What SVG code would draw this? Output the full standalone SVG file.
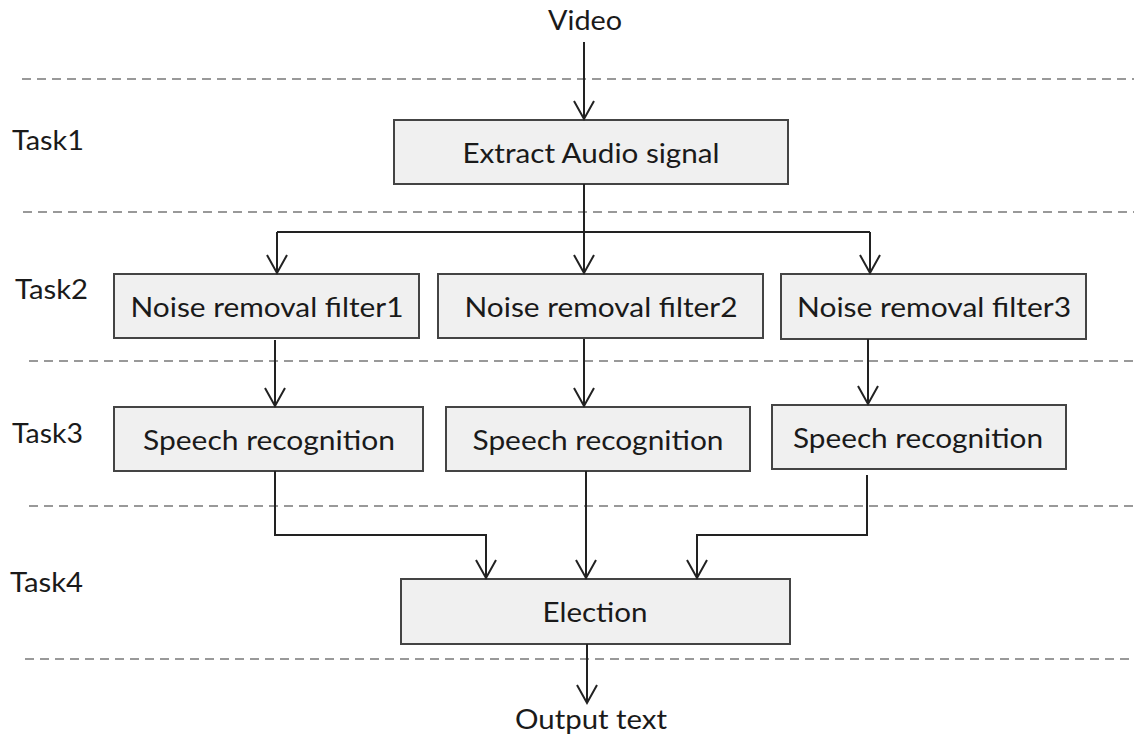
<svg xmlns="http://www.w3.org/2000/svg" width="1134" height="735" viewBox="0 0 1134 735">
  <defs>
    <marker id="arrow" markerUnits="userSpaceOnUse" markerWidth="40" markerHeight="40" refX="0" refY="0" orient="auto" overflow="visible">
      <path d="M-18,-10 L0,0 L-18,10" fill="none" stroke="#222" stroke-width="2"/>
    </marker>
    <style>
      .sep { stroke: #999; stroke-width: 2.2; stroke-dasharray: 9 6; fill: none; }
      .box { fill: #f0f0f0; stroke: #444; stroke-width: 2; }
      .lbl { font-family: Lato, "Open Sans", sans-serif; font-size: 26px; fill: #1a1a1a; text-anchor: middle; }
      .task { font-family: Lato, "Open Sans", sans-serif; font-size: 26px; fill: #1a1a1a; }
      .wire { fill: none; stroke: #222; stroke-width: 2; }
      .arr { marker-end: url(#arrow); }
    </style>
  </defs>

  <!-- stage separators -->
  <g id="separators">
    <line class="sep" x1="22" y1="79" x2="1134" y2="79"/>
    <line class="sep" x1="23" y1="212" x2="1134" y2="212"/>
    <line class="sep" x1="29" y1="361" x2="1134" y2="361"/>
    <line class="sep" x1="29" y1="506" x2="1134" y2="506"/>
    <line class="sep" x1="25" y1="659" x2="1134" y2="659"/>
  </g>

  <!-- stage labels -->
  <g id="task-labels">
    <text class="task" x="12" y="150" textLength="72" lengthAdjust="spacingAndGlyphs">Task1</text>
    <text class="task" x="15" y="299" textLength="73" lengthAdjust="spacingAndGlyphs">Task2</text>
    <text class="task" x="12" y="443" textLength="71" lengthAdjust="spacingAndGlyphs">Task3</text>
    <text class="task" x="10" y="592" textLength="73" lengthAdjust="spacingAndGlyphs">Task4</text>
  </g>

  <!-- input / output labels -->
  <g id="video">
    <text class="lbl" x="585" y="30" textLength="74" lengthAdjust="spacingAndGlyphs">Video</text>
  </g>
  <g id="output-text">
    <text class="lbl" x="591" y="729" textLength="152" lengthAdjust="spacingAndGlyphs">Output text</text>
  </g>

  <!-- processing nodes -->
  <g id="extract-audio">
    <rect class="box" x="394" y="120" width="394" height="64"/>
    <text class="lbl" x="591" y="163" textLength="257" lengthAdjust="spacingAndGlyphs">Extract Audio signal</text>
  </g>
  <g id="filter1">
    <rect class="box" x="114" y="274" width="305" height="64"/>
    <text class="lbl" x="267" y="317" textLength="273" lengthAdjust="spacingAndGlyphs">Noise removal filter1</text>
  </g>
  <g id="filter2">
    <rect class="box" x="438" y="274" width="325" height="64"/>
    <text class="lbl" x="601" y="317" textLength="273" lengthAdjust="spacingAndGlyphs">Noise removal filter2</text>
  </g>
  <g id="filter3">
    <rect class="box" x="781" y="274" width="305" height="65"/>
    <text class="lbl" x="934" y="317" textLength="274" lengthAdjust="spacingAndGlyphs">Noise removal filter3</text>
  </g>
  <g id="speech1">
    <rect class="box" x="114" y="407" width="309" height="64"/>
    <text class="lbl" x="269" y="450" textLength="252" lengthAdjust="spacingAndGlyphs">Speech recognition</text>
  </g>
  <g id="speech2">
    <rect class="box" x="446" y="407" width="304" height="64"/>
    <text class="lbl" x="598" y="450" textLength="251" lengthAdjust="spacingAndGlyphs">Speech recognition</text>
  </g>
  <g id="speech3">
    <rect class="box" x="772" y="405" width="294" height="64"/>
    <text class="lbl" x="918" y="448" textLength="250" lengthAdjust="spacingAndGlyphs">Speech recognition</text>
  </g>
  <g id="election">
    <rect class="box" x="401" y="579" width="389" height="65"/>
    <text class="lbl" x="595" y="622" textLength="105" lengthAdjust="spacingAndGlyphs">Election</text>
  </g>

  <!-- connectors -->
  <g id="connectors">
    <path class="wire arr" d="M584,42 V119"/>
    <path class="wire" d="M584,184 V232"/>
    <path class="wire" d="M277,232 H870"/>
    <path class="wire arr" d="M277,232 V273"/>
    <path class="wire arr" d="M584,232 V273"/>
    <path class="wire arr" d="M870,232 V273"/>
    <path class="wire arr" d="M275,340 V406"/>
    <path class="wire arr" d="M584,339 V406"/>
    <path class="wire arr" d="M868,339 V404"/>
    <path class="wire arr" d="M275,471 V535 H486 V578"/>
    <path class="wire arr" d="M586,471 V578"/>
    <path class="wire arr" d="M867,475 V535 H697 V578"/>
    <path class="wire arr" d="M587,644 V703"/>
  </g>
</svg>
